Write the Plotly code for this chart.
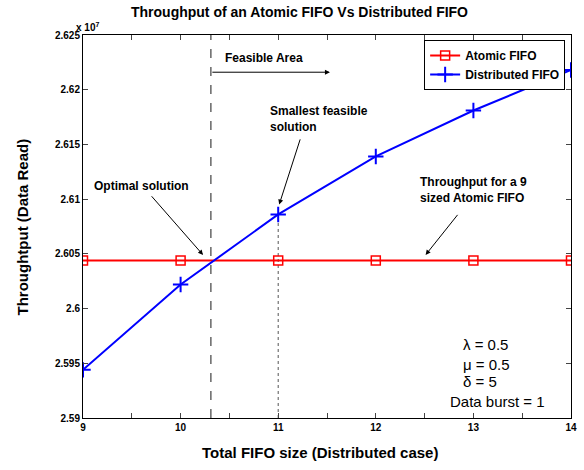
import plotly.graph_objects as go

# Data (throughput in units of 1e7)
fifo_size = [9, 10, 11, 12, 13, 14]
atomic_fifo = [2.6044, 2.6044, 2.6044, 2.6044, 2.6044, 2.6044]
distributed_fifo = [2.5944, 2.6022, 2.6086, 2.6139, 2.6181, 2.6218]
optimal_x = 10.31
x_tick_vals = [9, 9.5, 10, 10.5, 11, 11.5, 12, 12.5, 13, 13.5, 14]
x_tick_text = ["9", "", "10", "", "11", "", "12", "", "13", "", "14"]
y_tick_vals = [2.59, 2.595, 2.6, 2.605, 2.61, 2.615, 2.62, 2.625]
y_tick_text = ["2.59", "2.595", "2.6", "2.605", "2.61", "2.615", "2.62", "2.625"]

FONT = "Liberation Sans, Arial, sans-serif"

fig = go.Figure()
fig.add_trace(go.Scatter(
    x=fifo_size, y=atomic_fifo, name="<b>Atomic FIFO</b>", mode="lines+markers",
    line=dict(color="#ff0000", width=2),
    marker=dict(symbol="square-open", size=9, color="#ff0000", line=dict(width=1.5, color="#ff0000")),
))
fig.add_trace(go.Scatter(
    x=fifo_size, y=distributed_fifo, name="<b>Distributed FIFO</b>", mode="lines+markers",
    line=dict(color="#0000ff", width=2),
    marker=dict(symbol="cross-thin-open", size=11, color="#0000ff", line=dict(width=2, color="#0000ff")),
))

# dashed optimal line
fig.add_shape(type="line", x0=optimal_x, x1=optimal_x, y0=2.59, y1=2.625, xref="x", yref="y",
              line=dict(color="#666666", width=1.5, dash="dash"), layer="below")
# dotted smallest feasible line
fig.add_shape(type="line", x0=fifo_size[2], x1=fifo_size[2], y0=2.59, y1=distributed_fifo[2], xref="x", yref="y",
              line=dict(color="#555555", width=1, dash="dot"), layer="below")

ann = []
bold = dict(family=FONT, size=12, color="black")
arrow = dict(xref="x", yref="y", axref="x", ayref="y", text="", showarrow=True,
             arrowhead=2, arrowsize=1, arrowwidth=1, arrowcolor="black")
# Feasible area
ann.append(dict(x=10.43, y=2.6229, xref="x", yref="y", text="<b>Feasible Area</b>", showarrow=False,
                xanchor="left", yanchor="middle", font=bold))
ann.append(dict(x=11.53, y=2.6216, ax=optimal_x, ay=2.6216, **arrow))
# Smallest feasible solution
ann.append(dict(x=10.90, y=2.6173, xref="x", yref="y", text="<b>Smallest feasible<br>solution</b>",
                showarrow=False, xanchor="left", yanchor="middle", align="left", font=bold))
ann.append(dict(x=11.01, y=2.6095, ax=11.23, ay=2.6156, **arrow))
# Optimal solution
ann.append(dict(x=9.09, y=2.6112, xref="x", yref="y", text="<b>Optimal solution</b>",
                showarrow=False, xanchor="left", yanchor="middle", font=bold))
ann.append(dict(x=10.23, y=2.6049, ax=9.69, ay=2.6104, **arrow))
# Throughput for a 9 sized Atomic FIFO
ann.append(dict(x=12.43, y=2.6108, xref="x", yref="y", text="<b>Throughput for a 9<br>sized Atomic FIFO</b>",
                showarrow=False, xanchor="left", yanchor="middle", align="left", font=bold))
ann.append(dict(x=12.51, y=2.6049, ax=12.85, ay=2.6087, **arrow))
# Parameters
reg = dict(family=FONT, size=15, color="black")
ann.append(dict(x=12.87, y=2.5967, xref="x", yref="y", text="λ = 0.5", showarrow=False, xanchor="left", font=reg))
ann.append(dict(x=12.87, y=2.5949, xref="x", yref="y", text="μ = 0.5", showarrow=False, xanchor="left", font=reg))
ann.append(dict(x=12.87, y=2.5933, xref="x", yref="y", text="δ = 5", showarrow=False, xanchor="left", font=reg))
ann.append(dict(x=12.74, y=2.5915, xref="x", yref="y", text="Data burst = 1", showarrow=False, xanchor="left", font=reg))
# Title, exponent, axis titles
ann.append(dict(x=0.443, y=1.06, xref="paper", yref="paper", text="<b>Throughput of an Atomic FIFO Vs Distributed FIFO</b>",
                showarrow=False, xanchor="center", yanchor="middle", font=dict(family=FONT, size=14, color="black")))
ann.append(dict(x=-0.018, y=1.0, xref="paper", yref="paper", text="<b>x 10<sup>7</sup></b>",
                showarrow=False, xanchor="left", yanchor="bottom", font=dict(family=FONT, size=10, color="black")))
ann.append(dict(x=0.486, y=-0.091, xref="paper", yref="paper", text="<b>Total FIFO size (Distributed case)</b>",
                showarrow=False, xanchor="center", yanchor="middle", font=dict(family=FONT, size=15, color="black")))
ann.append(dict(x=-0.123, y=0.5, xref="paper", yref="paper", text="<b>Throughtput (Data Read)</b>", textangle=-90,
                showarrow=False, xanchor="center", yanchor="middle", font=dict(family=FONT, size=15, color="black")))

fig.update_layout(
    width=584, height=470,
    margin=dict(l=83, r=13, t=35, b=52, autoexpand=False),
    paper_bgcolor="white", plot_bgcolor="white",
    font=dict(family=FONT, size=10, color="black"),
    annotations=ann,
    showlegend=True,
    legend=dict(x=0.988, y=0.987, xanchor="right", yanchor="top", bgcolor="white",
                bordercolor="black", borderwidth=1, font=dict(family=FONT, size=12, color="black"),
                tracegroupgap=0, itemwidth=30),
)
fig.update_xaxes(range=[9, 14], tickvals=x_tick_vals, ticktext=["<b>%s</b>" % t if t else "" for t in x_tick_text],
                 ticks="inside", ticklen=5, showline=True, linecolor="black", linewidth=1, mirror="allticks",
                 showgrid=False, zeroline=False, automargin=False, tickfont=dict(family=FONT, size=10, color="black"))
fig.update_yaxes(range=[2.59, 2.625], tickvals=y_tick_vals, ticktext=["<b>%s</b>" % t for t in y_tick_text],
                 ticks="inside", ticklen=5, showline=True, linecolor="black", linewidth=1, mirror="allticks",
                 showgrid=False, zeroline=False, automargin=False, tickfont=dict(family=FONT, size=10, color="black"))

fig.write_html("out.html", config={"displayModeBar": False},
               post_script="document.body.style.margin='0';")
